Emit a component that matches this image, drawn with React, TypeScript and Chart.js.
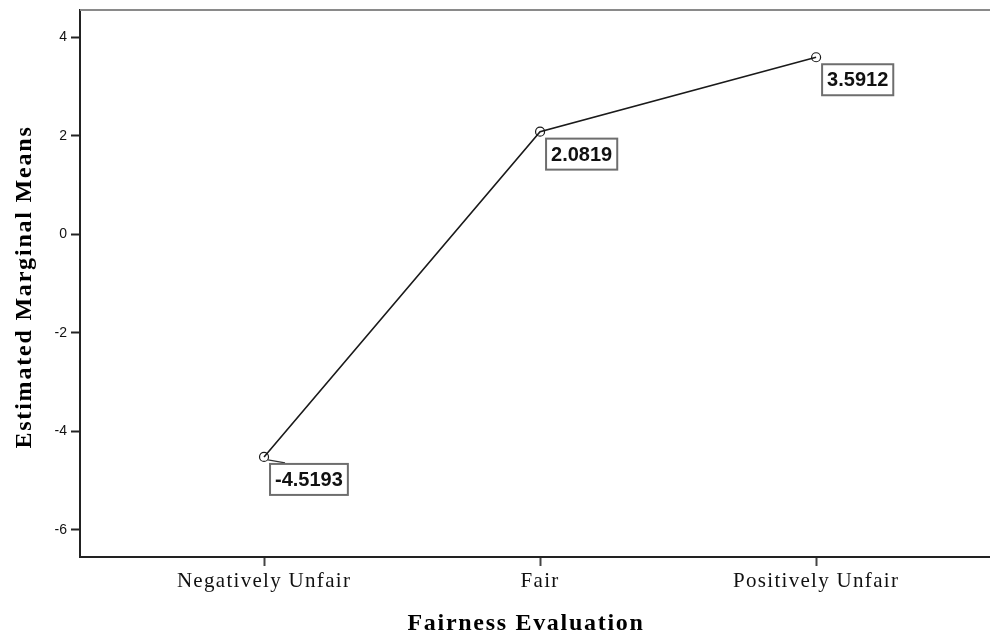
import React, { useEffect, useRef } from "react";
import { Chart, registerables } from "chart.js";

Chart.register(...registerables);

const categories: string[] = ["Negatively Unfair", "Fair", "Positively Unfair"];
const categoryIndex: number[] = [0, 1, 2];
const meanValues: number[] = [-4.5193, 2.0819, 3.5912];
const valueLabels: string[] = ["-4.5193", "2.0819", "3.5912"];
const yTickValues: number[] = [-6, -4, -2, 0, 2, 4];
const xTitle = "Fairness Evaluation";
const yTitle = "Estimated Marginal Means";

const decorPlugin = {
  id: "decor",
  beforeDraw(chart: any) {
    chart.ctx.letterSpacing = "1.3px";
  },
  afterDraw(chart: any) {
    const ctx = chart.ctx;
    const area = chart.chartArea;
    ctx.save();
    ctx.letterSpacing = "0px";
    // top border
    ctx.strokeStyle = "#8a8a8a";
    ctx.lineWidth = 2;
    ctx.beginPath();
    ctx.moveTo(area.left, area.top);
    ctx.lineTo(chart.width, area.top);
    ctx.stroke();

    // value labels
    const meta = chart.getDatasetMeta(0);
    ctx.font = "bold 20px 'Liberation Sans', Arial, sans-serif";
    meta.data.forEach((pt: any, i: number) => {
      const label = valueLabels[i];
      const tw = ctx.measureText(label).width;
      const bx = pt.x + 6;
      const by = pt.y + 7;
      const bw = tw + 10;
      const bh = 31;
      if (i === 0) {
        ctx.strokeStyle = "#333";
        ctx.lineWidth = 1.2;
        ctx.beginPath();
        ctx.moveTo(pt.x + 4, pt.y + 3);
        ctx.lineTo(pt.x + 21, pt.y + 6);
        ctx.stroke();
      }
      ctx.fillStyle = "#ffffff";
      ctx.fillRect(bx, by, bw, bh);
      ctx.strokeStyle = "#6e6e6e";
      ctx.lineWidth = 2;
      ctx.strokeRect(bx, by, bw, bh);
      ctx.fillStyle = "#111";
      ctx.textAlign = "center";
      ctx.textBaseline = "middle";
      ctx.fillText(label, bx + bw / 2, by + bh / 2 + 1);
    });

    // axis titles
    ctx.fillStyle = "#000";
    ctx.font = "bold 24px 'Liberation Serif', 'Times New Roman', serif";
    ctx.letterSpacing = "1.7px";
    ctx.textAlign = "center";
    ctx.textBaseline = "alphabetic";
    ctx.fillText(xTitle, 526, 630);

    ctx.save();
    ctx.translate(31, 287);
    ctx.rotate(-Math.PI / 2);
    ctx.letterSpacing = "1.8px";
    ctx.fillText(yTitle, 0, 0);
    ctx.restore();

    ctx.restore();
  },
};

export default function App() {
  const ref = useRef<HTMLCanvasElement | null>(null);

  useEffect(() => {
    if (!ref.current) return;
    const chart = new Chart(ref.current, {
      type: "line",
      data: {
        datasets: [
          {
            data: categoryIndex.map((x, i) => ({ x, y: meanValues[i] })),
            borderColor: "#1a1a1a",
            borderWidth: 1.6,
            pointRadius: 4.5,
            pointBorderWidth: 1.2,
            pointBorderColor: "#1a1a1a",
            pointBackgroundColor: "rgba(0,0,0,0)",
            tension: 0,
            fill: false,
          },
        ],
      },
      options: {
        animation: false,
        responsive: false,
        devicePixelRatio: 1,
        layout: { autoPadding: false, padding: { top: 10, left: 0, right: 0, bottom: 0 } },
        plugins: {
          legend: { display: false },
          tooltip: { enabled: false },
          title: { display: false },
        },
        scales: {
          x: {
            type: "linear",
            min: -0.6667,
            max: 2.63,
            afterFit: (s: any) => {
              s.height = 75;
              s.paddingLeft = 0;
              s.paddingRight = 0;
            },
            afterBuildTicks: (s: any) => {
              s.ticks = categoryIndex.map((v) => ({ value: v }));
            },
            grid: {
              drawOnChartArea: false,
              drawTicks: true,
              tickLength: 9,
              tickWidth: 2,
              tickColor: "#444",
            },
            border: { display: true, color: "#222", width: 2 },
            ticks: {
              autoSkip: false,
              maxRotation: 0,
              padding: 3,
              color: (c: any) => {
                c.chart.ctx.letterSpacing = "1.3px";
                return "#111";
              },
              font: { family: "'Liberation Serif', 'Times New Roman', serif", size: 21 },
              callback: (v: any) => categories[Number(v)] ?? "",
            },
          },
          y: {
            type: "linear",
            min: -6.55,
            max: 4.55,
            afterFit: (s: any) => {
              s.width = 80;
              s.paddingTop = 0;
              s.paddingBottom = 0;
            },
            afterBuildTicks: (s: any) => {
              s.ticks = yTickValues.map((v) => ({ value: v }));
            },
            grid: {
              drawOnChartArea: false,
              drawTicks: true,
              tickLength: 9,
              tickWidth: 2,
              tickColor: "#222",
            },
            border: { display: true, color: "#222", width: 2 },
            ticks: {
              padding: 4,
              color: (c: any) => {
                c.chart.ctx.letterSpacing = "0px";
                return "#111";
              },
              font: { family: "'Liberation Sans', Arial, sans-serif", size: 14 },
            },
          },
        },
      },
      plugins: [decorPlugin],
    });
    return () => chart.destroy();
  }, []);

  return (
    <div style={{ position: "absolute", left: 0, top: 0, width: 990, height: 632, background: "#fff" }}>
      <canvas ref={ref} width={990} height={632} />
    </div>
  );
}
